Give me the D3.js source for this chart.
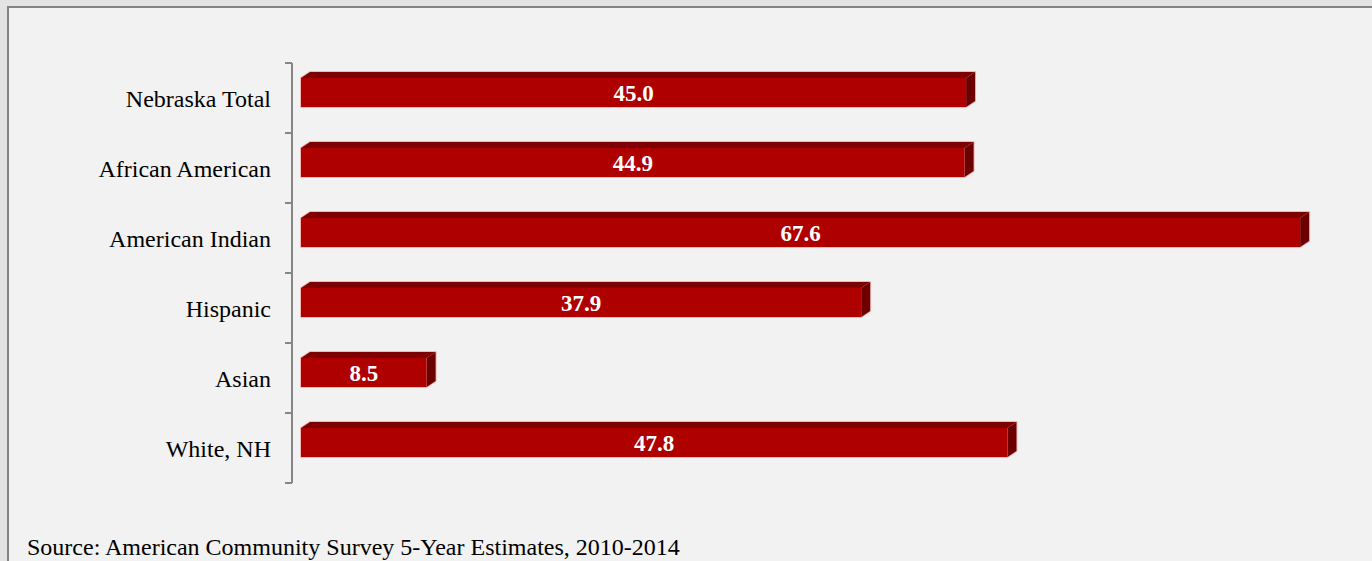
<!DOCTYPE html>
<html>
<head>
<meta charset="utf-8">
<script src="https://cdn.jsdelivr.net/npm/d3@7"></script>
<style>
  html, body { margin: 0; padding: 0; background: #e3e3e3; }
  svg { display: block; }
</style>
</head>
<body>
<svg id="chart" width="1372" height="561"></svg>
<script>
// Percent values by group (Nebraska, ACS 2010-2014)
const categories = ["Nebraska Total", "African American", "American Indian", "Hispanic", "Asian", "White, NH"];
const values = [45.0, 44.9, 67.6, 37.9, 8.5, 47.8];
const sourceNote = "Source: American Community Survey 5-Year Estimates, 2010-2014";

const svg = d3.select("#chart");
const W = 1372, H = 561;
const serif = "'Liberation Serif', 'Times New Roman', serif";

// outer backdrop and panel
svg.append("rect").attr("width", W).attr("height", H).attr("fill", "#e3e3e3");
svg.append("rect")
  .attr("x", 8).attr("y", 7).attr("width", W + 20).attr("height", H + 20)
  .attr("fill", "#f2f2f2").attr("stroke", "#838383").attr("stroke-width", 2);

const x = d3.scaleLinear().domain([0, 70]).range([301, 1335.6]);
const y = d3.scaleBand().domain(categories).range([63, 483]).padding(0);

const data = categories.map((c, i) => ({ cat: c, v: values[i] }));

// 3-D bar geometry
const dx = 9, dy = 6, frontTop = 15, frontH = 29;

const bars = svg.append("g").selectAll("g.bar").data(data).join("g").attr("class", "bar");

bars.each(function(d) {
  const g = d3.select(this);
  const x0 = x(0), x1 = x(d.v);
  const t = y(d.cat) + frontTop, b = t + frontH;
  // faint halo
  g.append("path")
    .attr("d", `M${x0},${t} L${x0 + dx},${t - dy} L${x1 + dx},${t - dy} L${x1 + dx},${b - dy} L${x1},${b} L${x0},${b} Z`)
    .attr("fill", "none").attr("stroke", "#f0b8b8").attr("stroke-width", 2).attr("stroke-linejoin", "round");
  // top face
  g.append("path")
    .attr("d", `M${x0},${t} L${x0 + dx},${t - dy} L${x1 + dx},${t - dy} L${x1},${t} Z`)
    .attr("fill", "#7e0000");
  // side face
  g.append("path")
    .attr("d", `M${x1},${t} L${x1 + dx},${t - dy} L${x1 + dx},${b - dy} L${x1},${b} Z`)
    .attr("fill", "#6c0000");
  // front face
  g.append("rect")
    .attr("x", x0).attr("y", t).attr("width", x1 - x0).attr("height", frontH)
    .attr("fill", "#af0000");
  // value label
  g.append("text")
    .attr("x", (x0 + x1) / 2).attr("y", t + frontH / 2 + 8)
    .attr("text-anchor", "middle")
    .attr("font-family", serif)
    .attr("font-weight", "bold").attr("font-size", 23)
    .attr("fill", "#ffffff")
    .text(d.v.toFixed(1));
});

// category axis
const axis = d3.axisLeft(y).tickSize(0).tickPadding(21).tickSizeOuter(0);
const ag = svg.append("g").attr("transform", "translate(292,0)").call(axis);
ag.select(".domain").attr("stroke", "#868686").attr("stroke-width", 2)
  .attr("d", `M0,${y.range()[0]}V${y.range()[1]}`);
ag.selectAll(".tick line").remove();
// boundary ticks between categories
const bounds = categories.map(c => y(c)).concat([y.range()[1]]);
ag.selectAll("line.sep").data(bounds).join("line").attr("class", "sep")
  .attr("x1", -7).attr("x2", 0).attr("y1", d => d).attr("y2", d => d)
  .attr("stroke", "#868686").attr("stroke-width", 2);
ag.selectAll(".tick text")
  .attr("x", -21)
  .attr("dy", null)
  .attr("y", 9)
  .attr("font-family", serif)
  .attr("font-size", 24)
  .attr("fill", "#000");

// source note
svg.append("text")
  .attr("x", 27).attr("y", 555)
  .attr("font-family", serif)
  .attr("font-size", 24).attr("fill", "#000")
  .text(sourceNote);
</script>
</body>
</html>
